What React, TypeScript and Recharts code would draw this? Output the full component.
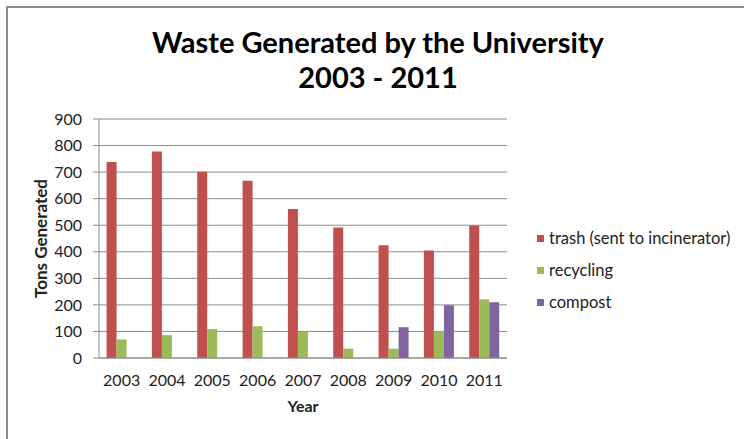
import { BarChart, Bar, XAxis, YAxis, CartesianGrid, Legend, Label } from "recharts";

const years = ["2003", "2004", "2005", "2006", "2007", "2008", "2009", "2010", "2011"];
const trash = [738, 778, 701, 667, 561, 491, 425, 405, 499];
const recycling = [70, 86, 109, 120, 98, 35, 35, 100, 221];
const compost = [null, null, null, null, null, null, 116, 199, 210];
const yTicks = [0, 100, 200, 300, 400, 500, 600, 700, 800, 900];
const seriesNames = ["trash (sent to incinerator)", "recycling", "compost"];

const data = years.map((year, i) => ({
  year,
  trash: trash[i],
  recycling: recycling[i],
  compost: compost[i],
}));

const font = "Lato, 'Open Sans', sans-serif";

function LegendBox({ payload }: any) {
  const items = [...(payload || [])].sort(
    (a: any, b: any) => seriesNames.indexOf(a.value) - seriesNames.indexOf(b.value)
  );
  return (
    <div style={{ fontFamily: font, fontSize: 16.5, color: "#222" }}>
      {items.map((p: any) => (
        <div
          key={p.value}
          style={{ height: 32, display: "flex", alignItems: "center", whiteSpace: "nowrap" }}
        >
          <span
            style={{
              display: "inline-block",
              width: 7,
              height: 7,
              background: p.color,
              marginRight: 5,
            }}
          />
          {p.value}
        </div>
      ))}
    </div>
  );
}

export default function App() {
  return (
    <div
      style={{
        position: "absolute",
        left: 0,
        top: 0,
        width: 744,
        height: 439,
        overflow: "hidden",
        background: "#fff",
      }}
    >
      <div
        style={{
          position: "absolute",
          left: 6,
          top: 6,
          width: 800,
          height: 500,
          borderTop: "2px solid #8c8c8c",
          borderLeft: "2px solid #8c8c8c",
        }}
      />
      <div
        style={{
          position: "absolute",
          left: 0,
          top: 24,
          width: 756,
          textAlign: "center",
          fontFamily: font,
          fontWeight: 700,
          fontSize: 29,
          lineHeight: "35px",
          color: "#000",
        }}
      >
        Waste Generated by the University
        <br />
        2003 - 2011
      </div>
      <BarChart
        width={744}
        height={439}
        data={data}
        margin={{ top: 119, right: 37, bottom: 21, left: 19 }}
        barCategoryGap="16.7%"
        barGap={0}
      >
        <CartesianGrid vertical={false} stroke="#8c8c8c" />
        <XAxis
          dataKey="year"
          height={60}
          tickLine={false}
          tickSize={0}
          tickMargin={17}
          axisLine={{ stroke: "#8c8c8c" }}
          tick={{ fontFamily: font, fontSize: 16, fill: "#222" }}
        >
          <Label
            value="Year"
            position="insideBottom"
            offset={6}
            style={{ fontFamily: font, fontSize: 16, fontWeight: 700, fill: "#222" }}
          />
        </XAxis>
        <YAxis
          width={80}
          domain={[0, 900]}
          ticks={yTicks}
          interval={0}
          tickSize={6}
          tickMargin={11}
          tickLine={{ stroke: "#8c8c8c" }}
          axisLine={{ stroke: "#8c8c8c" }}
          tick={{ fontFamily: font, fontSize: 16, fill: "#222" }}
        >
          <Label
            value="Tons Generated"
            angle={-90}
            position="center"
            dx={-18}
            style={{ fontFamily: font, fontSize: 17, fontWeight: 700, fill: "#222" }}
          />
        </YAxis>
        <Legend
          layout="vertical"
          align="right"
          verticalAlign="middle"
          width={200}
          content={<LegendBox />}
          wrapperStyle={{ left: 537, top: 222 }}
        />
        <Bar dataKey="trash" name={seriesNames[0]} fill="#C0504D" isAnimationActive={false} />
        <Bar dataKey="recycling" name={seriesNames[1]} fill="#9BBB59" isAnimationActive={false} />
        <Bar dataKey="compost" name={seriesNames[2]} fill="#8064A2" isAnimationActive={false} />
      </BarChart>
    </div>
  );
}
